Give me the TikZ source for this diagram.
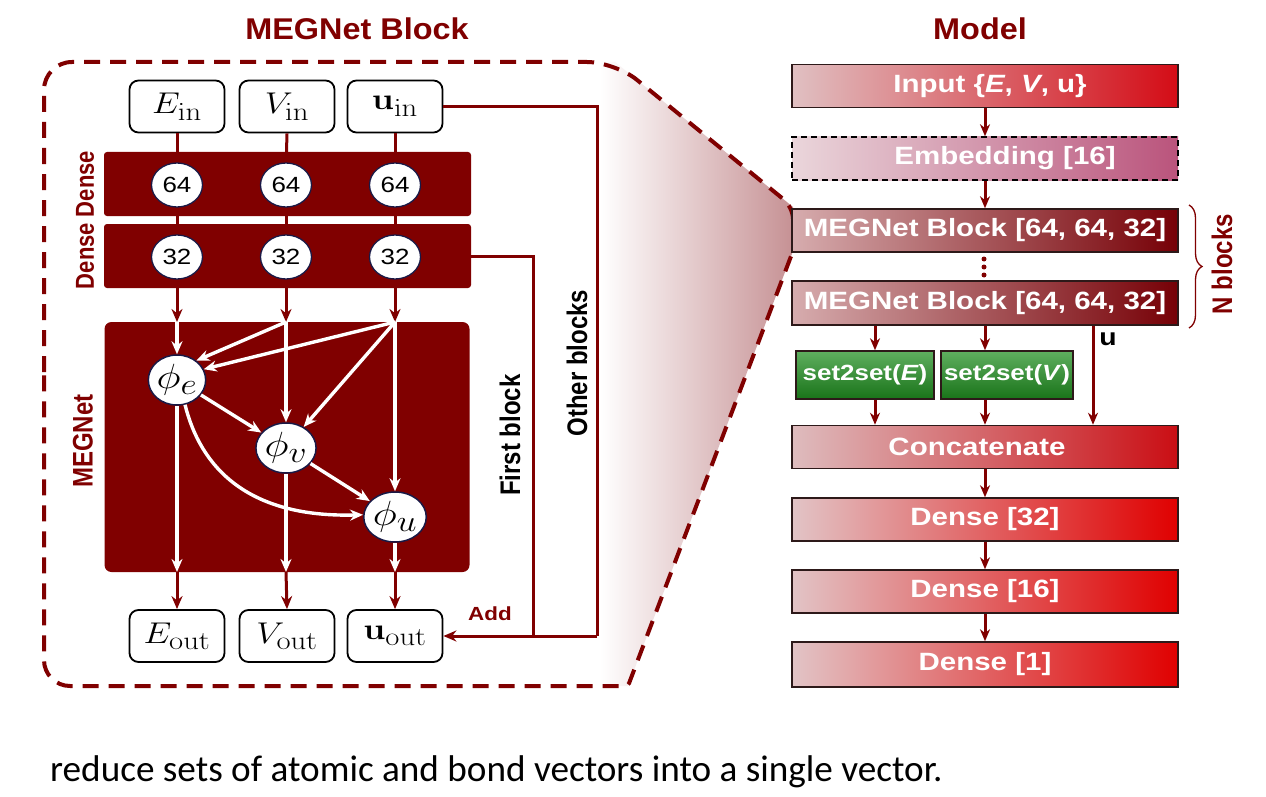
\RequirePackage{fix-cm}
\documentclass[tikz,border=0pt]{standalone}
\usepackage[no-math]{fontspec}
\setmainfont{Liberation Sans}
\newfontfamily\cali{Carlito}
\usepackage{graphicx}
\usetikzlibrary{arrows.meta,shapes.geometric,decorations.pathreplacing}
\DeclareMathSizes{30}{30}{26}{20}
\DeclareMathSizes{35}{35}{30}{22}
\definecolor{dred}{RGB}{128,0,0}
\definecolor{navyb}{RGB}{25,25,70}
\definecolor{boxb}{RGB}{45,25,25}
\definecolor{wedge}{RGB}{198,145,148}
\definecolor{inL}{RGB}{224,192,194}
\definecolor{inR}{RGB}{212,12,22}
\definecolor{embL}{RGB}{234,214,219}
\definecolor{embR}{RGB}{186,84,124}
\definecolor{megL}{RGB}{214,172,174}
\definecolor{megR}{RGB}{118,0,6}
\definecolor{concL}{RGB}{222,188,190}
\definecolor{concR}{RGB}{202,14,20}
\definecolor{denL}{RGB}{226,196,198}
\definecolor{denR}{RGB}{224,0,0}
\definecolor{grT}{RGB}{95,175,95}
\definecolor{grB}{RGB}{25,115,25}
\newcommand{\hs}[1]{\scalebox{1.18}[1]{#1}}
\newcommand{\vs}[1]{\scalebox{1}[1.18]{#1}}
\tikzset{
  redc/.style={draw=dred, line width=3pt},
  redarr/.style={draw=dred, line width=3pt, -{Stealth[length=13pt,width=11pt]}},
  whitearr/.style={draw=white, line width=3.4pt, -{Stealth[length=13pt,width=11pt]}},
  marr/.style={draw=dred, line width=3pt, -{Stealth[length=12pt,width=10pt]}},
  outline/.style={draw=dred, line width=4pt, dash pattern=on 16pt off 10pt},
  iobox/.style={draw=black, line width=1.8pt, rounded corners=9pt, fill=white,
    minimum width=95pt, minimum height=52pt, inner sep=0pt, font=\fontsize{30}{30}\selectfont},
  barbox/.style={fill=dred, rounded corners=3pt, minimum width=367pt, minimum height=64pt, inner sep=0pt},
  megbox/.style={fill=dred, rounded corners=7pt, minimum width=365pt, minimum height=250pt, inner sep=0pt},
  numc/.style={ellipse, draw=navyb, line width=1.3pt, fill=white, minimum width=51pt,
    minimum height=44pt, inner sep=0pt, font=\fontsize{22}{22}\selectfont},
  phic/.style={ellipse, draw=navyb, line width=1.5pt, fill=white, minimum width=53pt,
    minimum height=50pt, inner sep=0pt, font=\fontsize{35}{35}\selectfont},
  vlab/.style={rotate=90, inner sep=0pt, font=\bfseries\fontsize{24}{24}\selectfont},
  mbox/.style={draw=boxb, line width=1.5pt, minimum width=386pt, minimum height=43pt,
    inner sep=0pt, text=white, font=\bfseries\fontsize{25}{25}\selectfont},
  s2s/.style={draw=boxb, line width=1.5pt, minimum height=48pt, inner sep=0pt,
    top color=grT, bottom color=grB, text=white, font=\bfseries\fontsize{22}{22}\selectfont},
}
\begin{document}
\begin{tikzpicture}[x=1pt,y=-1pt]
\useasboundingbox (0,0) rectangle (1266,797);
\fill[white] (0,0) rectangle (1266,797);

% zoom wedge
\shade[left color=white, right color=wedge] (600,62) -- (615,62) -- (793,207) -- (793,251) -- (628,686) -- (600,686) -- cycle;
% dashed outline of the block
\draw[outline] (44,400) [rounded corners=28pt] -- (44,62) -- (615,62) [rounded corners=12pt] -- (793,207) [rounded corners=3pt] -- (793,251) -- (628,686) [rounded corners=26pt] -- (44,686) [rounded corners=28pt] -- cycle;

% titles
\node[text=dred, font=\bfseries\fontsize{30}{30}\selectfont] (t1) at (357,29) {\scalebox{1.08}[1]{MEGNet Block}};
\node[text=dred, font=\bfseries\fontsize{30}{30}\selectfont] (t2) at (980,29) {\scalebox{1.08}[1]{Model}};

% ---------- MEGNet block ----------
\node[barbox] (bar1) at (287.5,184) {};
\node[barbox] (bar2) at (287.5,256) {};
\node[megbox] (meg) at (287,447) {};

\node[iobox] (ein) at (177,106.5) {\hs{$E_{\mathrm{in}}$}};
\node[iobox] (vin) at (287,106.5) {\hs{$V_{\mathrm{in}}$}};
\node[iobox] (uin) at (395,106.5) {\hs{$\mathbf{u}_{\mathrm{in}}$}};
\node[iobox] (eout) at (177,636) {\hs{$E_{\mathrm{out}}$}};
\node[iobox] (vout) at (287,636) {\hs{$V_{\mathrm{out}}$}};
\node[iobox] (uout) at (395,636) {\hs{$\mathbf{u}_{\mathrm{out}}$}};

\draw[redc] (ein.south) -- (177,170);
\draw[redc] (vin.south) -- (286,170);
\draw[redc] (uin.south) -- (395,170);
\draw[redc] (177,200) -- (177,240);
\draw[redc] (286,200) -- (286,240);
\draw[redc] (395,200) -- (395,240);

\node[numc] (e64) at (177,185) {\hs{64}};
\node[numc] (v64) at (286,185) {\hs{64}};
\node[numc] (u64) at (395,185) {\hs{64}};
\node[numc] (e32) at (177,257) {\hs{32}};
\node[numc] (v32) at (286,257) {\hs{32}};
\node[numc] (u32) at (395,257) {\hs{32}};

\coordinate (eT) at (177,322);
\coordinate (vT) at (286,322);
\coordinate (uT) at (395,322);
\coordinate (eB) at (177,572);
\coordinate (vB) at (286,572);
\coordinate (uB) at (395,572);

\draw[redarr] (e32.south) -- (eT);
\draw[redarr] (v32.south) -- (vT);
\draw[redarr] (u32.south) -- (uT);

\node[phic] (pe) at (177,380) {\hs{$\phi_e$}};
\node[phic] (pv) at (286,448) {\hs{$\phi_v$}};
\node[phic] (pu) at (395,517) {\hs{$\phi_u$}};

\draw[whitearr] (eT) -- (pe.north);
\draw[whitearr] (vT) -- (pv.north);
\draw[whitearr] (uT) -- (pu.north);
\draw[whitearr] (vT) -- (pe.45);
\draw[whitearr] (uT) -- (pe.22);
\draw[whitearr] (uT) -- (pv.50);
\draw[whitearr] (pe) -- (pv);
\draw[whitearr] (pv) -- (pu);
\draw[whitearr] (pe.-72) .. controls (200,465) and (245,518) .. (pu.176);
\draw[whitearr] (pe.south) -- (eB);
\draw[whitearr] (pv.south) -- (vB);
\draw[whitearr] (pu.south) -- (uB);

\draw[redarr] (eB) -- (eout.north);
\draw[redarr] (vB) -- (vout.north);
\draw[redarr] (uB) -- (uout.north);

\coordinate (jo) at (597,636);
\coordinate (jf) at (533,636);
\draw[redc] (uin.east) -| (jo);
\draw[redc] (bar2.east) -| (jf);
\draw[redarr] (jo) -- (uout.east);

\node[text=dred, font=\bfseries\fontsize{19}{19}\selectfont] (addl) at (490,614) {\hs{Add}};
\node[vlab, text=black] (fb) at (510,435) {\vs{First block}};
\node[vlab, text=black] (ob) at (577,363) {\vs{Other blocks}};
\node[vlab, text=dred, font=\bfseries\fontsize{22}{22}\selectfont] (dl1) at (85,184) {\vs{Dense}};
\node[vlab, text=dred, font=\bfseries\fontsize{22}{22}\selectfont] (dl2) at (85,256) {\vs{Dense}};
\node[vlab, text=dred] (ml) at (83,441) {\vs{MEGNet}};

% ---------- Model ----------
\node[mbox, left color=inL, right color=inR] (inp) at (985,86) {\hspace*{10pt}\hs{Input \{\textit{E}, \textit{V}, u\}}};
\node[mbox, draw=black, dash pattern=on 6pt off 4pt, left color=embL, right color=embR] (emb) at (985,158.5) {\hspace*{40pt}\hs{Embedding [16]}};
\node[mbox, left color=megL, right color=megR] (meg1) at (985,230.5) {\hs{MEGNet Block [64, 64, 32]}};
\node[mbox, left color=megL, right color=megR, minimum height=44pt] (meg2) at (985,303) {\hs{MEGNet Block [64, 64, 32]}};
\node[s2s, minimum width=138pt] (s2sE) at (865,375) {\hs{set2set(\textit{E})}};
\node[s2s, minimum width=132pt] (s2sV) at (1007,375) {\hs{set2set(\textit{V})}};
\node[mbox, left color=concL, right color=concR] (conc) at (985,447) {\hs{Concatenate}\hspace*{16pt}};
\node[mbox, left color=denL, right color=denR] (d32) at (985,519.5) {\hs{Dense [32]}};
\node[mbox, left color=denL, right color=denR] (d16) at (985,591.5) {\hs{Dense [16]}};
\node[mbox, left color=denL, right color=denR, minimum height=45pt] (d1) at (985,664.5) {\hs{Dense [1]}};

\coordinate (xa) at (875,0);
\coordinate (xb) at (985,0);
\coordinate (xc) at (1093,0);
\draw[marr] (inp.south) -- (emb.north);
\draw[marr] (emb.south) -- (meg1.north);
\draw[marr] (meg2.south -| xa) -- (s2sE.north -| xa);
\draw[marr] (meg2.south -| xb) -- (s2sV.north -| xb);
\draw[marr] (meg2.south -| xc) -- (conc.north -| xc);
\draw[marr] (s2sE.south -| xa) -- (conc.north -| xa);
\draw[marr] (s2sV.south -| xb) -- (conc.north -| xb);
\draw[marr] (conc.south) -- (d32.north);
\draw[marr] (d32.south) -- (d16.north);
\draw[marr] (d16.south) -- (d1.north);

\fill[dred] (984,259) circle (2.5pt);
\fill[dred] (984,267) circle (2.5pt);
\fill[dred] (984,275) circle (2.5pt);

\draw[dred, line width=1.3pt, decorate, decoration={brace, amplitude=13pt}] (1189,205) -- (1189,328);
\node[vlab, text=dred] (nb) at (1222,264) {\vs{N blocks}};
\node[font=\bfseries\fontsize{24}{24}\selectfont] (ul) at (1108,339) {\hs{u}};

% caption
\node[anchor=base west, inner sep=0pt, font=\cali\fontsize{37.2}{40}\selectfont] (cap) at (50,781) {reduce sets of atomic and bond vectors into a single vector.};
\end{tikzpicture}
\end{document}
